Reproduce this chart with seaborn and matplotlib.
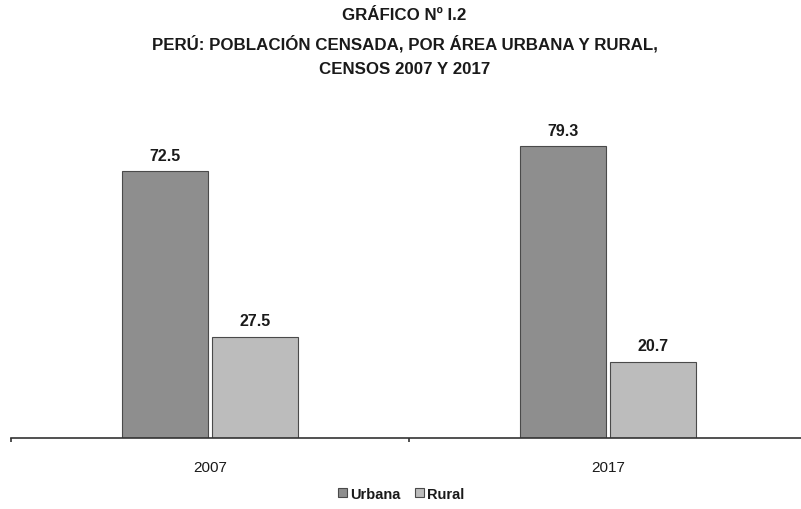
import pandas as pd
import matplotlib.pyplot as plt
import seaborn as sns
from matplotlib.ticker import FixedLocator

# ── datos ────────────────────────────────────────────────────
anios   = ['2007', '2017']
areas   = ['Urbana', 'Rural']
urbana  = [72.5, 79.3]
rural   = [27.5, 20.7]

df = pd.DataFrame({
    'Año':   anios * 2,
    'Área':  ['Urbana'] * 2 + ['Rural'] * 2,
    'Valor': urbana + rural,
})

sns.set_style('white')
plt.rcParams['font.family'] = ['Liberation Sans Narrow', 'Liberation Sans', 'DejaVu Sans']
plt.rcParams['text.color'] = '#1a1a1a'
plt.rcParams['xtick.color'] = '#1a1a1a'

fig = plt.figure(figsize=(8.01, 5.10), dpi=100)
ax = fig.add_axes([11 / 801, 1 - 439 / 510, 796 / 801, (439 - 110) / 510])

sns.barplot(data=df, x='Año', y='Valor', hue='Área', hue_order=areas,
            palette={'Urbana': '#8e8e8e', 'Rural': '#bcbcbc'},
            width=0.45, gap=0.04, edgecolor='#4a4a4a', linewidth=0.8,
            legend=True, ax=ax)

for cont in ax.containers:
    ax.bar_label(cont, fmt='%.1f', padding=6, fontsize=11.5, fontweight='bold',
                 color='#1a1a1a', family=['Liberation Sans', 'DejaVu Sans'])

ax.set_xlim(-0.5, 1.5)
ax.set_ylim(0, 89.4)
ax.set_xlabel('')
ax.set_ylabel('')
ax.set_yticks([])
for s in ['top', 'right', 'left']:
    ax.spines[s].set_visible(False)
ax.spines['bottom'].set_color('#333333')
ax.spines['bottom'].set_linewidth(1.2)
ax.tick_params(axis='x', which='major', length=0, pad=16, labelsize=11, labelcolor='#1a1a1a')
for t in ax.get_xticklabels():
    t.set_family(['Liberation Sans', 'DejaVu Sans'])
ax.xaxis.set_minor_locator(FixedLocator([-0.5, 0.5, 1.5]))
ax.tick_params(axis='x', which='minor', bottom=True, direction='out', length=3, width=1.2,
               color='#333333')

leg = ax.legend(loc='center', bbox_to_anchor=(390 / 796, -0.17), ncol=2, frameon=False,
                handlelength=0.6, handleheight=0.6, handletextpad=0.2, columnspacing=1.0,
                prop={'family': ['Liberation Sans', 'DejaVu Sans'], 'weight': 'bold', 'size': 10.5})
for txt in leg.get_texts():
    txt.set_color('#1a1a1a')

fig.text(0.505, 1 - 15 / 510, 'GRÁFICO Nº I.2', ha='center', va='center',
         fontsize=12.2, fontweight='bold')
fig.text(0.505, 1 - 44 / 510, 'PERÚ: POBLACIÓN CENSADA, POR ÁREA URBANA Y RURAL,',
         ha='center', va='center', fontsize=12.2, fontweight='bold')
fig.text(0.505, 1 - 70 / 510, 'CENSOS 2007 Y 2017', ha='center', va='center',
         fontsize=12.2, fontweight='bold')

fig.savefig('out.png', dpi=100)
